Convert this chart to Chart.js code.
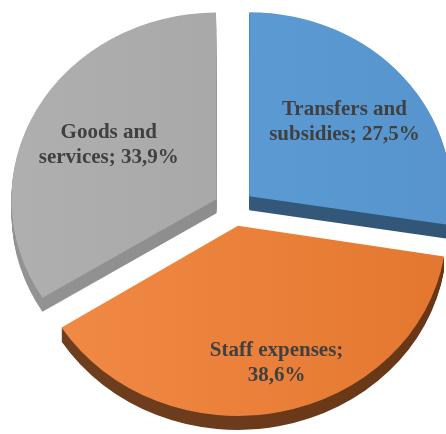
<!DOCTYPE html>
<html>
<head>
<meta charset="utf-8">
<script src="https://cdn.jsdelivr.net/npm/chart.js@4/dist/chart.umd.min.js"></script>
<style>
  html, body { margin: 0; padding: 0; background: #fff; overflow: hidden; }
  #wrap { width: 446px; height: 434px; position: relative; }
</style>
</head>
<body>
<div id="wrap"><canvas id="c"></canvas></div>
<script>
// Budget structure by expense type (percent of total)
const categories = ['Transfers and subsidies', 'Staff expenses', 'Goods and services'];
const shares = [27.5, 38.6, 33.9];
const faceLight = ['#5FA0D9', '#F28C48', '#B0B0B0'];  // left side of each top face
const faceDark = ['#5794CD', '#E4772F', '#A2A2A2'];   // right side of each top face
const sideShade = [0.58, 0.46, 0.84];    // brightness of each slice's side wall
const labelRadius = [0.62, 0.77, 0.61];  // label distance as a fraction of the radius
const labelTurn = [0, -2.5, 0];          // small angular nudge of each label, degrees

const TILT = 0.91;   // vertical squash giving the tilted look
const DEPTH = 14;    // thickness of the pie slab, px
const EXPLODE = 80;  // Chart.js arc offset (slices move by a quarter of this)

function fmt(v) { return v.toFixed(1).replace('.', ',') + '%'; }

function wrap(ctx, text, maxWidth) {
  const words = text.split(' ');
  const lines = [];
  let line = '';
  words.forEach(w => {
    const test = line ? line + ' ' + w : w;
    if (line && ctx.measureText(test).width > maxWidth) { lines.push(line); line = w; }
    else line = test;
  });
  if (line) lines.push(line);
  return lines;
}

// Soft left-to-right shading of each top face
function faceFill(context) {
  const chart = context.chart;
  const i = context.dataIndex;
  if (i === undefined) return faceDark[0];
  const g = chart.ctx.createLinearGradient(0, 0, chart.width, 0);
  g.addColorStop(0, faceLight[i]);
  g.addColorStop(1, faceDark[i]);
  return g;
}

// Squashes the pie vertically, adds a slab side under every slice and writes the labels
const tiltedPie = {
  id: 'tiltedPie',
  beforeDatasetsDraw(chart) {
    const ctx = chart.ctx;
    const arcs = chart.getDatasetMeta(0).data;
    const { x, y } = arcs[0];
    ctx.save();
    ctx.translate(x, y);
    ctx.scale(1, TILT);
    ctx.translate(-x, -y);
    arcs.forEach((arc, i) => {
      ctx.filter = 'brightness(' + sideShade[i] + ')';
      for (let d = DEPTH; d >= 1; d--) {
        ctx.save();
        ctx.translate(0, d / TILT);
        arc.draw(ctx);
        ctx.restore();
      }
    });
    ctx.filter = 'none';
  },
  afterDatasetsDraw(chart) {
    const ctx = chart.ctx;
    ctx.restore();
    const arcs = chart.getDatasetMeta(0).data;
    ctx.save();
    ctx.font = 'bold 21px "Liberation Serif", "Times New Roman", serif';
    ctx.fillStyle = '#404040';
    ctx.textAlign = 'center';
    ctx.textBaseline = 'middle';
    const lineH = 25;
    arcs.forEach((arc, i) => {
      const p = arc.getProps(['x', 'y', 'startAngle', 'endAngle', 'outerRadius'], true);
      const mid = (p.startAngle + p.endAngle) / 2 + labelTurn[i] * Math.PI / 180;
      const r = EXPLODE / 4 + labelRadius[i] * p.outerRadius;
      const cx = p.x + Math.cos(mid) * r;
      const cy = p.y + Math.sin(mid) * r * TILT;
      const lines = wrap(ctx, categories[i] + '; ' + fmt(shares[i]), 165);
      const top = cy - (lines.length - 1) * lineH / 2;
      lines.forEach((ln, k) => ctx.fillText(ln, cx, top + k * lineH));
    });
    ctx.restore();
  }
};

new Chart(document.getElementById('c'), {
  type: 'pie',
  data: {
    labels: categories,
    datasets: [{
      data: shares,
      backgroundColor: faceFill,
      borderWidth: 0,
      offset: EXPLODE,
      radius: 202,
      clip: false
    }]
  },
  options: {
    responsive: true,
    maintainAspectRatio: false,
    animation: false,
    events: [],
    layout: { padding: { left: 22, right: 0, top: 0, bottom: 18 } },
    plugins: { legend: { display: false }, tooltip: { enabled: false } }
  },
  plugins: [tiltedPie]
});
</script>
</body>
</html>
